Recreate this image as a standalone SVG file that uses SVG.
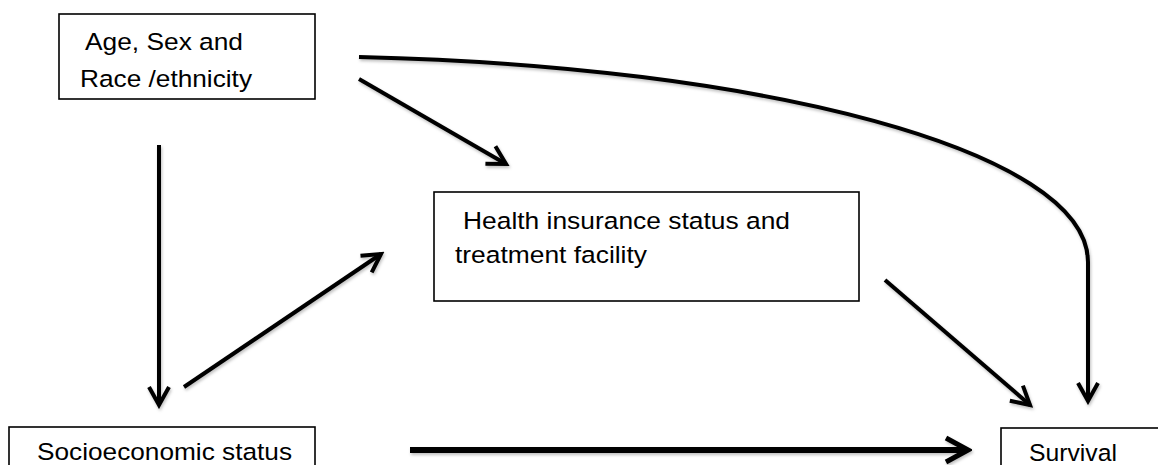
<svg xmlns="http://www.w3.org/2000/svg" width="1158" height="465" viewBox="0 0 1158 465">
  <style>
    .box { fill: #ffffff; stroke: #000000; stroke-width: 1.6; }
    .lbl { font-family: "Liberation Sans", Arial, sans-serif; font-size: 24.5px; fill: #000000; }
    .conn { fill: none; stroke: #000000; stroke-width: 4; stroke-linecap: butt; }
    .thick { stroke-width: 6; }
  </style>
  <defs>
    <filter id="shadow" x="-10%" y="-10%" width="120%" height="130%">
      <feDropShadow dx="1" dy="2" stdDeviation="1.5" flood-color="#000000" flood-opacity="0.25"/>
    </filter>
    <marker id="arrow" markerUnits="userSpaceOnUse" viewBox="-22 -13 26 26" refX="0" refY="0" markerWidth="26" markerHeight="26" orient="auto">
      <path d="M-18,-10 L0,0 L-18,10" fill="none" stroke="#000000" stroke-width="4" stroke-linejoin="miter"/>
    </marker>
    <marker id="arrowBig" markerUnits="userSpaceOnUse" viewBox="-26 -15 30 30" refX="0" refY="0" markerWidth="30" markerHeight="30" orient="auto">
      <path d="M-22,-12 L0,0 L-22,12" fill="none" stroke="#000000" stroke-width="5" stroke-linejoin="miter"/>
    </marker>
  </defs>
  <rect width="1158" height="465" fill="#ffffff"/>

  <g id="connectors" filter="url(#shadow)">
    <path class="conn" d="M359,57 C760,66 1088,150 1088,262 L1088,401" marker-end="url(#arrow)"/>
    <path class="conn" d="M359,79 L506,164" marker-end="url(#arrow)"/>
    <path class="conn" d="M159,145 L159,405" marker-end="url(#arrow)"/>
    <path class="conn" d="M184,387 L381,254" marker-end="url(#arrow)"/>
    <path class="conn" d="M885,280 L1030,405" marker-end="url(#arrow)"/>
    <path class="conn thick" d="M410,450 L968,450" marker-end="url(#arrowBig)"/>
  </g>

  <g id="node-age">
    <rect class="box" x="59" y="14" width="256" height="85"/>
    <text class="lbl" x="85" y="50" textLength="158" lengthAdjust="spacingAndGlyphs">Age, Sex and</text>
    <text class="lbl" x="80" y="87" textLength="172" lengthAdjust="spacingAndGlyphs">Race /ethnicity</text>
  </g>

  <g id="node-health">
    <rect class="box" x="434" y="192" width="425" height="109"/>
    <text class="lbl" x="463" y="229" font-size="23.3" textLength="327" lengthAdjust="spacingAndGlyphs">Health insurance status and</text>
    <text class="lbl" x="455" y="263" font-size="23.3" textLength="192" lengthAdjust="spacingAndGlyphs">treatment facility</text>
  </g>

  <g id="node-ses">
    <rect class="box" x="9" y="427" width="306" height="60"/>
    <text class="lbl" x="37" y="460" textLength="255" lengthAdjust="spacingAndGlyphs">Socioeconomic status</text>
  </g>

  <g id="node-survival">
    <rect class="box" x="1001" y="428" width="170" height="60"/>
    <text class="lbl" x="1029" y="461" textLength="88" lengthAdjust="spacingAndGlyphs">Survival</text>
  </g>
</svg>
